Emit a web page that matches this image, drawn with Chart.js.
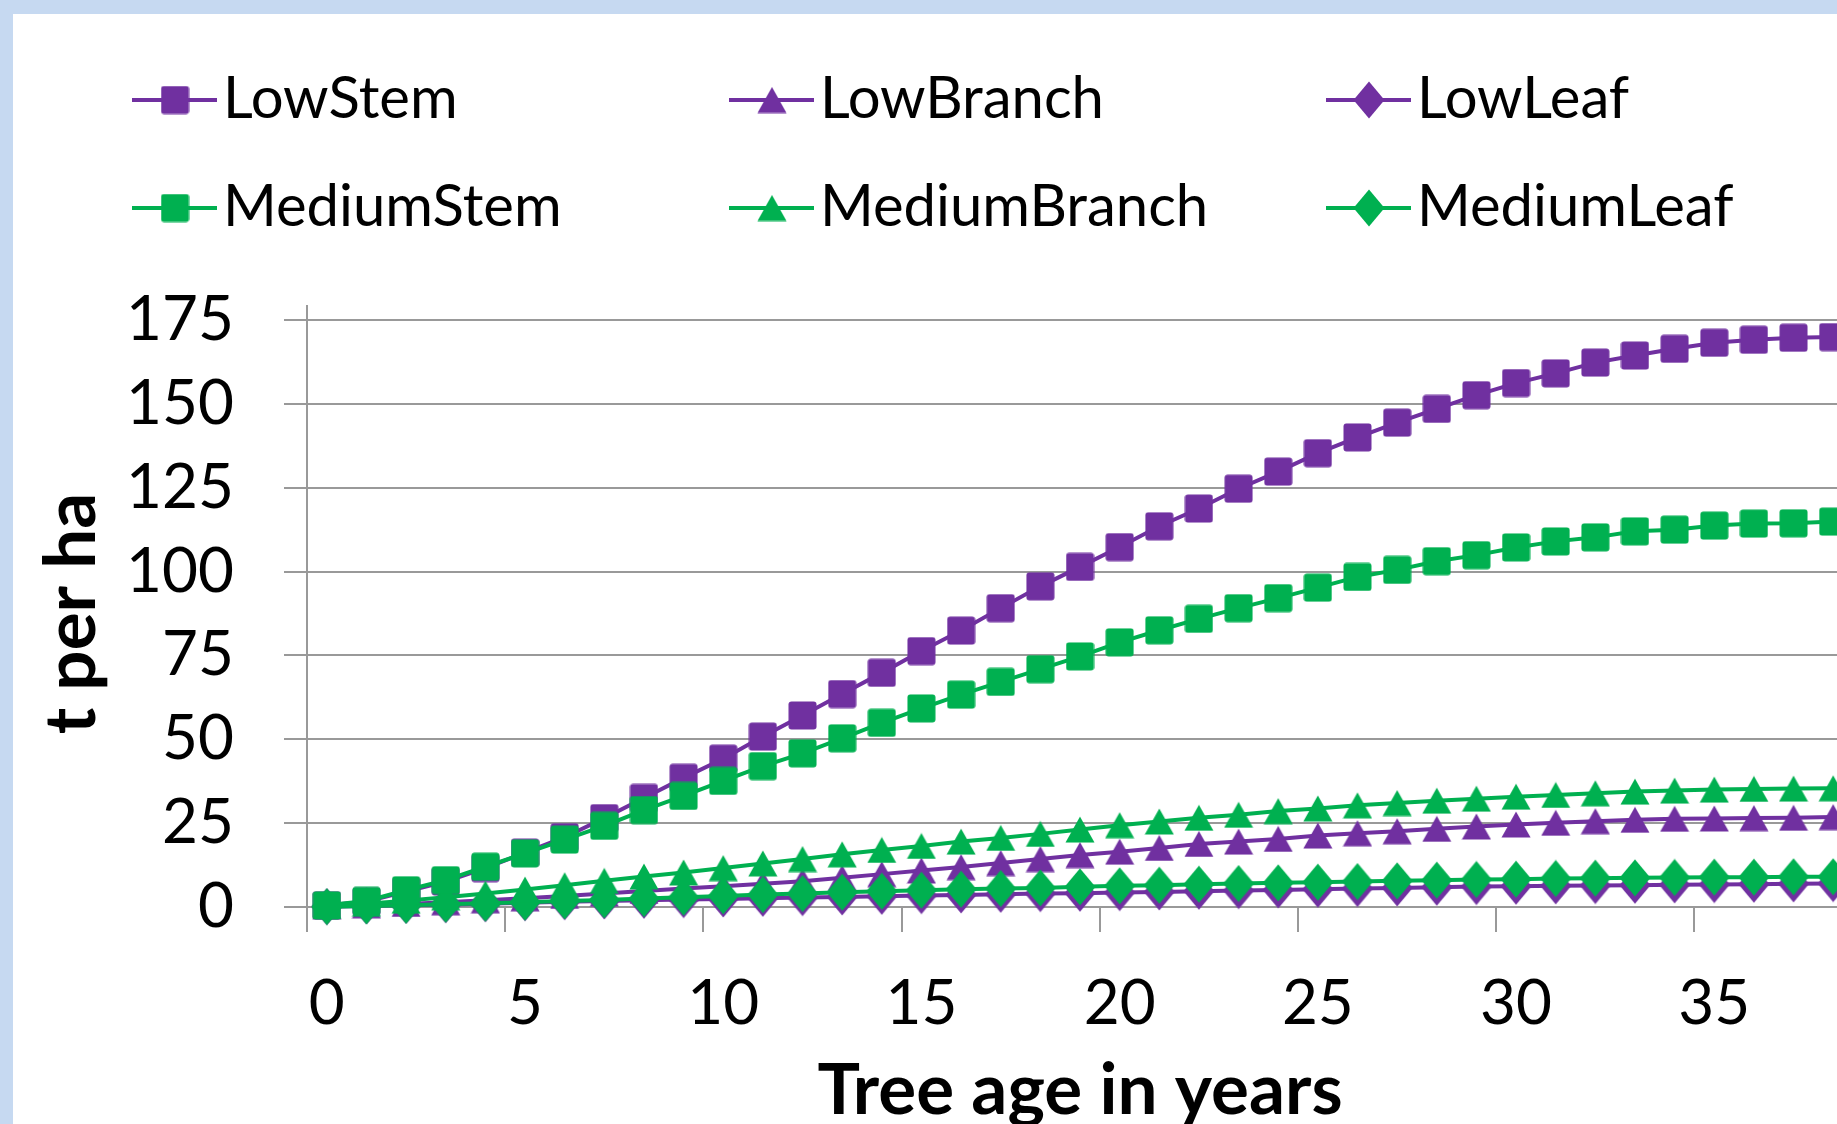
<!DOCTYPE html>
<html lang="en">
<head>
<meta charset="UTF-8">
<title>Stem, branch and leaf biomass by tree age</title>
<script src="https://cdn.jsdelivr.net/npm/chart.js"></script>
<style>
  html, body { margin: 0; padding: 0; }
  body { width: 1837px; height: 1124px; overflow: hidden; background: #c6d9f1; position: relative; }
  #wrap { position: absolute; left: 13px; top: 14px; width: 1860px; height: 1120px; background: #fff; }
  canvas { display: block; }
</style>
</head>
<body>
<div id="wrap"><canvas id="myChart" width="1860" height="1120"></canvas></div>

<script>
    // tree age in years (category axis)
    const ages = [0, 1, 2, 3, 4, 5, 6, 7, 8, 9, 10, 11, 12, 13, 14, 15, 16, 17, 18, 19,
                  20, 21, 22, 23, 24, 25, 26, 27, 28, 29, 30, 31, 32, 33, 34, 35, 36, 37, 38];

    // t per ha
    const lowStem = [0.5, 1.6, 4.6, 7.6, 11.6, 16.2, 20.8, 26.5, 32.5, 38.5, 44.2, 50.8, 57.1, 63.5, 69.8, 76.3, 82.4, 89.1, 95.6, 101.4,
                     107.3, 113.5, 118.8, 124.7, 129.8, 135.3, 140.0, 144.4, 148.5, 152.6, 156.2, 159.1, 162.3, 164.4, 166.4, 168.2, 169.1, 169.7, 169.9];
    const lowBranch = [0.2, 0.5, 0.9, 1.4, 2.0, 2.6, 3.3, 4.0, 4.8, 5.5, 6.2, 6.9, 7.7, 8.7, 9.8, 10.9, 11.9, 13.1, 14.3, 15.5,
                       16.5, 17.6, 18.8, 19.5, 20.3, 21.3, 22.0, 22.6, 23.3, 24.0, 24.6, 25.1, 25.6, 26.0, 26.3, 26.4, 26.5, 26.6, 26.8];
    const lowLeaf = [0.1, 0.3, 0.5, 0.7, 1.0, 1.3, 1.6, 1.8, 2.0, 2.2, 2.4, 2.6, 2.8, 3.0, 3.2, 3.4, 3.6, 3.8, 4.0, 4.1,
                     4.3, 4.5, 4.7, 4.9, 5.1, 5.3, 5.5, 5.7, 5.9, 6.1, 6.2, 6.3, 6.4, 6.5, 6.6, 6.7, 6.8, 6.9, 7.0];
    const mediumStem = [0.5, 1.8, 5.0, 8.0, 12.0, 16.0, 20.1, 24.2, 28.9, 33.1, 37.6, 42.0, 45.8, 50.3, 54.9, 59.2, 63.3, 67.1, 70.9, 74.7,
                        78.9, 82.5, 85.9, 89.1, 92.1, 95.2, 98.4, 100.5, 103.1, 104.9, 107.2, 109.0, 110.2, 112.0, 112.5, 113.7, 114.3, 114.4, 114.9];
    const mediumBranch = [0.3, 1.0, 1.9, 2.9, 4.0, 5.2, 6.5, 7.8, 9.1, 10.3, 11.6, 13.0, 14.3, 15.7, 17.0, 18.2, 19.5, 20.6, 21.8, 23.1,
                          24.4, 25.5, 26.6, 27.5, 28.6, 29.4, 30.3, 31.0, 31.7, 32.3, 32.9, 33.4, 33.9, 34.4, 34.7, 35.0, 35.2, 35.3, 35.4];
    const mediumLeaf = [0.1, 0.3, 0.5, 0.8, 1.1, 1.4, 1.8, 2.1, 2.5, 2.9, 3.3, 3.7, 4.0, 4.4, 4.7, 5.0, 5.3, 5.5, 5.7, 6.0,
                        6.3, 6.5, 6.8, 7.0, 7.2, 7.4, 7.6, 7.8, 8.0, 8.2, 8.3, 8.5, 8.6, 8.7, 8.8, 8.9, 8.9, 9.0, 9.0];

    const PURPLE = '#7030a0';
    const GREEN = '#00b050';
    const GRID = '#999999';
    const FONT = 'Lato';

    // excel-like markers drawn into small canvases, used as pointStyle
    function makeMarker(shape, color) {
        const c = document.createElement('canvas');
        const g = c.getContext('2d');
        if (shape === 'square') {
            c.width = 29; c.height = 29;
            g.fillStyle = color;
            g.beginPath();
            g.roundRect(0.5, 0.5, 28, 28, 3);
        } else if (shape === 'triangle') {
            c.width = 30; c.height = 27;
            g.fillStyle = color;
            g.beginPath();
            g.moveTo(15, 0.5);
            g.lineTo(29.5, 26.5);
            g.lineTo(0.5, 26.5);
            g.closePath();
        } else {
            c.width = 32; c.height = 38;
            g.fillStyle = color;
            g.beginPath();
            g.moveTo(16, 0.5);
            g.lineTo(31.5, 19);
            g.lineTo(16, 37.5);
            g.lineTo(0.5, 19);
            g.closePath();
        }
        g.fill();
        return c;
    }

    function series(label, data, color, shape, order) {
        return {
            label: label,
            data: data,
            borderColor: color,
            backgroundColor: color,
            borderWidth: 4,
            pointStyle: makeMarker(shape, color),
            pointRadius: 14,
            tension: 0,
            clip: false,
            order: order
        };
    }

    // legend in a 3 x 2 grid like the excel one
    const legendGrid = {
        id: 'legendGrid',
        afterDraw(chart) {
            const {ctx, chartArea} = chart;
            ctx.save();

            // y axis line runs a bit above the top gridline
            ctx.strokeStyle = GRID;
            ctx.lineWidth = 2;
            ctx.beginPath();
            ctx.moveTo(chartArea.left, chartArea.top - 15);
            ctx.lineTo(chartArea.left, chartArea.top);
            ctx.stroke();

            ctx.font = '58px ' + FONT;
            ctx.textAlign = 'left';
            ctx.textBaseline = 'alphabetic';
            chart.data.datasets.forEach((ds, i) => {
                const col = i % 3;
                const row = Math.floor(i / 3);
                const x0 = 119 + col * 597;
                const my = 86 + row * 108;
                ctx.strokeStyle = ds.borderColor;
                ctx.lineWidth = 4;
                ctx.beginPath();
                ctx.moveTo(x0, my);
                ctx.lineTo(x0 + 85, my);
                ctx.stroke();
                const m = ds.pointStyle;
                ctx.drawImage(m, x0 + 43 - m.width / 2, my - m.height / 2);
                ctx.fillStyle = '#000';
                ctx.fillText(ds.label, x0 + 91, my + 18);
            });
            ctx.restore();
        }
    };

    const config = {
        type: 'line',
        data: {
            labels: ages,
            datasets: [
                series('LowStem', lowStem, PURPLE, 'square', 1),
                series('LowBranch', lowBranch, PURPLE, 'triangle', 1),
                series('LowLeaf', lowLeaf, PURPLE, 'diamond', 1),
                series('MediumStem', mediumStem, GREEN, 'square', 0),
                series('MediumBranch', mediumBranch, GREEN, 'triangle', 0),
                series('MediumLeaf', mediumLeaf, GREEN, 'diamond', 0)
            ]
        },
        options: {
            responsive: false,
            animation: false,
            events: [],
            layout: { padding: { left: 14, top: 306, right: 20, bottom: 0 } },
            plugins: {
                legend: { display: false },
                tooltip: { enabled: false }
            },
            scales: {
                x: {
                    offset: true,
                    ticks: {
                        autoSkip: false,
                        maxRotation: 0,
                        padding: 35,
                        color: '#000',
                        font: { family: FONT, size: 62 },
                        callback(value, index) {
                            return index % 5 === 0 ? this.getLabelForValue(value) : '';
                        }
                    },
                    grid: {
                        offset: true,
                        drawOnChartArea: false,
                        tickLength: 25,
                        lineWidth: 2,
                        color: c => (c.index % 5 === 0 ? GRID : 'rgba(0,0,0,0)')
                    },
                    border: { color: GRID, width: 2 },
                    title: {
                        display: true,
                        text: 'Tree age in years',
                        color: '#000',
                        font: { family: FONT, size: 71, weight: 'bold' },
                        padding: { top: 0, bottom: 0 }
                    },
                    afterFit(scale) { scale.height = 227; }
                },
                y: {
                    min: 0,
                    max: 175,
                    ticks: {
                        stepSize: 25,
                        padding: 50,
                        color: '#000',
                        font: { family: FONT, size: 62 }
                    },
                    grid: { color: GRID, lineWidth: 2, tickLength: 23 },
                    border: { color: GRID, width: 2 },
                    title: {
                        display: true,
                        text: 't per ha',
                        color: '#000',
                        font: { family: FONT, size: 71, weight: 'bold' },
                        padding: { top: 3, bottom: 0 }
                    },
                    afterFit(scale) { scale.width = 280; }
                }
            }
        },
        plugins: [legendGrid]
    };

    new Chart(document.getElementById('myChart').getContext('2d'), config);
</script>
</body>
</html>
